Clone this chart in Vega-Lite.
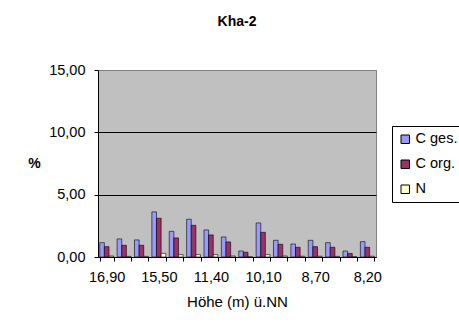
{
  "$schema": "https://vega.github.io/schema/vega-lite/v6.json",
  "width": 278,
  "height": 187,
  "autosize": {"type": "none"},
  "padding": {"left": 98, "top": 70, "right": 83, "bottom": 79},
  "background": "white",
  "title": {"text": "Kha-2", "font": "Liberation Sans", "fontSize": 14, "fontWeight": "bold", "color": "black", "offset": 33},
  "data": {"values": [
    {"h": "16,90", "s": "C ges.", "v": 1.15}, {"h": "16,90", "s": "C org.", "v": 0.83}, {"h": "16,90", "s": "N", "v": 0.08},
    {"h": "16,40", "s": "C ges.", "v": 1.45}, {"h": "16,40", "s": "C org.", "v": 0.94}, {"h": "16,40", "s": "N", "v": 0.05},
    {"h": "15,90", "s": "C ges.", "v": 1.37}, {"h": "15,90", "s": "C org.", "v": 0.94}, {"h": "15,90", "s": "N", "v": 0.05},
    {"h": "15,50", "s": "C ges.", "v": 3.62}, {"h": "15,50", "s": "C org.", "v": 3.11}, {"h": "15,50", "s": "N", "v": 0.29},
    {"h": "13,00", "s": "C ges.", "v": 2.06}, {"h": "13,00", "s": "C org.", "v": 1.53}, {"h": "13,00", "s": "N", "v": 0.19},
    {"h": "12,20", "s": "C ges.", "v": 3.03}, {"h": "12,20", "s": "C org.", "v": 2.54}, {"h": "12,20", "s": "N", "v": 0.19},
    {"h": "11,40", "s": "C ges.", "v": 2.17}, {"h": "11,40", "s": "C org.", "v": 1.77}, {"h": "11,40", "s": "N", "v": 0.19},
    {"h": "10,90", "s": "C ges.", "v": 1.61}, {"h": "10,90", "s": "C org.", "v": 1.21}, {"h": "10,90", "s": "N", "v": 0.08},
    {"h": "10,50", "s": "C ges.", "v": 0.48}, {"h": "10,50", "s": "C org.", "v": 0.38}, {"h": "10,50", "s": "N", "v": 0.02},
    {"h": "10,10", "s": "C ges.", "v": 2.73}, {"h": "10,10", "s": "C org.", "v": 1.98}, {"h": "10,10", "s": "N", "v": 0.19},
    {"h": "9,50", "s": "C ges.", "v": 1.34}, {"h": "9,50", "s": "C org.", "v": 1.02}, {"h": "9,50", "s": "N", "v": 0.08},
    {"h": "9,10", "s": "C ges.", "v": 1.04}, {"h": "9,10", "s": "C org.", "v": 0.78}, {"h": "9,10", "s": "N", "v": 0.06},
    {"h": "8,70", "s": "C ges.", "v": 1.34}, {"h": "8,70", "s": "C org.", "v": 0.83}, {"h": "8,70", "s": "N", "v": 0.06},
    {"h": "8,50", "s": "C ges.", "v": 1.15}, {"h": "8,50", "s": "C org.", "v": 0.78}, {"h": "8,50", "s": "N", "v": 0.05},
    {"h": "8,35", "s": "C ges.", "v": 0.48}, {"h": "8,35", "s": "C org.", "v": 0.29}, {"h": "8,35", "s": "N", "v": 0.02},
    {"h": "8,20", "s": "C ges.", "v": 1.23}, {"h": "8,20", "s": "C org.", "v": 0.78}, {"h": "8,20", "s": "N", "v": 0.06}
  ]},
  "mark": {"type": "bar", "stroke": "#000000", "strokeWidth": 0.6},
  "encoding": {
    "x": {
      "field": "h", "type": "nominal", "sort": null,
      "scale": {"paddingInner": 0.2, "paddingOuter": 0.1},
      "axis": {
        "title": "Höhe (m) ü.NN",
        "titleFontSize": 15,
        "labelAngle": 0,
        "tickBand": "extent",
        "labelExpr": "indexof(['16,90','15,50','11,40','10,10','8,70','8,20'], datum.value) >= 0 ? datum.value : ''",
        "labelPadding": 9,
        "titlePadding": 11
      }
    },
    "xOffset": {"field": "s", "type": "nominal", "sort": ["C ges.", "C org.", "N"], "scale": {"paddingInner": 0, "paddingOuter": 0}},
    "y": {
      "field": "v", "type": "quantitative",
      "scale": {"domain": [0, 15], "nice": false},
      "axis": {
        "title": "%",
        "titleAngle": 0,
        "titleFontWeight": "bold",
        "titleFontSize": 14,
        "titleX": -64,
        "titleY": 93,
        "titleAlign": "center",
        "titleBaseline": "middle",
        "values": [0, 5, 10, 15],
        "labelExpr": "replace(format(datum.value, '.2f'), '.', ',')",
        "labelPadding": 9,
        "grid": true,
        "gridColor": {"condition": {"test": "datum.value == 15", "value": "#808080"}, "value": "#000000"}
      }
    },
    "color": {
      "field": "s", "type": "nominal",
      "scale": {"domain": ["C ges.", "C org.", "N"], "range": ["#9999FF", "#993366", "#FFFFCC"]},
      "legend": {
        "title": null,
        "orient": "none",
        "legendX": 294,
        "legendY": 56,
        "symbolType": "square",
        "symbolSize": 72,
        "symbolStrokeColor": "#000000",
        "symbolStrokeWidth": 1,
        "labelFontSize": 14.5,
        "labelFont": "Liberation Sans",
        "labelColor": "#000000",
        "labelOffset": 3,
        "rowPadding": 10,
        "padding": 6,
        "strokeColor": "#000000",
        "fillColor": "#ffffff"
      }
    }
  },
  "config": {
    "view": {"fill": "#C0C0C0", "stroke": "#808080", "strokeWidth": 1},
    "axis": {
      "labelFont": "Liberation Sans",
      "labelFontSize": 14.5,
      "labelColor": "#000000",
      "titleFont": "Liberation Sans",
      "titleFontSize": 12,
      "titleFontWeight": "normal",
      "titleColor": "#000000",
      "domainColor": "#000000",
      "tickColor": "#000000",
      "tickSize": 4,
      "gridWidth": 1
    },
    "axisX": {"grid": false}
  }
}
